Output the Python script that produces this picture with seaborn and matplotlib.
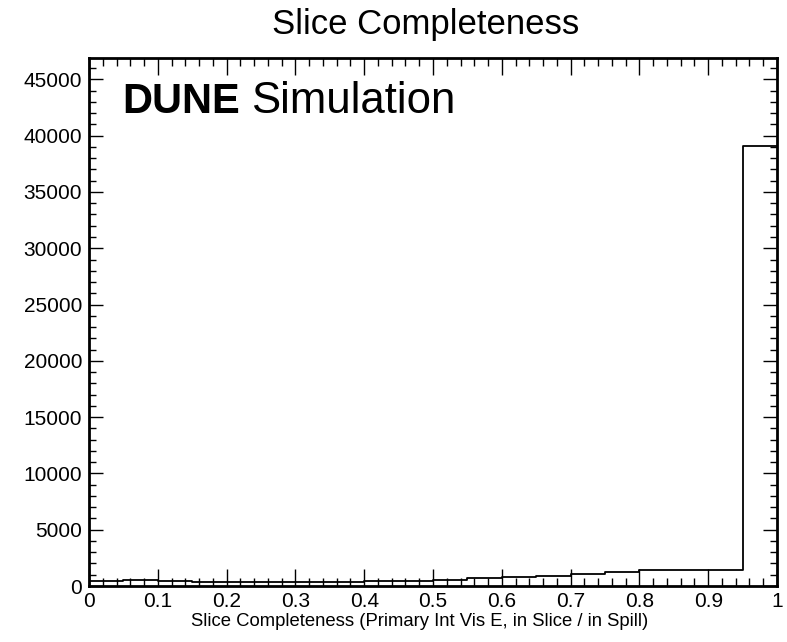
import numpy as np
import pandas as pd
import matplotlib
matplotlib.use("Agg")
import matplotlib.pyplot as plt
import seaborn as sns
from matplotlib.ticker import MultipleLocator

# ---- data ----
bin_edges = [0.0, 0.05, 0.1, 0.15, 0.2, 0.25, 0.3, 0.35, 0.4, 0.45, 0.5,
             0.55, 0.6, 0.65, 0.7, 0.75, 0.8, 0.85, 0.9, 0.95, 1.0]
bin_counts = [420, 560, 480, 400, 350, 350, 350, 400, 450, 450,
              520, 680, 790, 900, 1080, 1250, 1420, 1420, 1420, 39100]
x_ticks = [0, 0.1, 0.2, 0.3, 0.4, 0.5, 0.6, 0.7, 0.8, 0.9, 1]
x_tick_labels = ["0", "0.1", "0.2", "0.3", "0.4", "0.5", "0.6", "0.7", "0.8", "0.9", "1"]
y_ticks = [0, 5000, 10000, 15000, 20000, 25000, 30000, 35000, 40000, 45000]
y_tick_labels = [str(v) for v in y_ticks]

title = "Slice Completeness"
xlabel = "Slice Completeness (Primary Int Vis E, in Slice / in Spill)"

centers = [(bin_edges[i] + bin_edges[i + 1]) / 2 for i in range(len(bin_counts))]
df = pd.DataFrame({"x": centers, "w": bin_counts})

sns.set_theme(style="white")
plt.rcParams["font.family"] = ["Liberation Sans", "DejaVu Sans"]
plt.rcParams["text.color"] = "black"
plt.rcParams["xtick.color"] = "black"
plt.rcParams["ytick.color"] = "black"
plt.rcParams["axes.labelcolor"] = "black"

fig = plt.figure(figsize=(7.87, 6.42), dpi=100)
ax = fig.add_axes([0.1131, 0.0872, 0.9873 - 0.1131, 0.9097 - 0.0872])

sns.histplot(data=df, x="x", weights="w", bins=bin_edges, element="step",
             fill=False, color="black", linewidth=1.3, ax=ax)

ax.set_xlim(0, 1)
ax.set_ylim(0, 46900)
ax.set_xticks(x_ticks)
ax.set_xticklabels(x_tick_labels)
ax.set_yticks(y_ticks)
ax.set_yticklabels(y_tick_labels)
ax.xaxis.set_minor_locator(MultipleLocator(0.02))
ax.yaxis.set_minor_locator(MultipleLocator(1000))

ax.tick_params(axis="both", which="both", direction="in", top=True, right=True,
               bottom=True, left=True, color="black", labelcolor="black")
ax.tick_params(axis="x", which="major", length=12, width=1.0, labelsize=15, pad=4)
ax.tick_params(axis="x", which="minor", length=6, width=1.0)
ax.tick_params(axis="y", which="major", length=10, width=1.0, labelsize=15, pad=5)
ax.tick_params(axis="y", which="minor", length=5, width=1.0)

for s in ax.spines.values():
    s.set_visible(True)
    s.set_color("black")
    s.set_linewidth(2)

ax.set_ylabel("")
ax.set_xlabel(xlabel, fontsize=13.3, color="black")
ax.xaxis.set_label_coords(0.481, -0.068)
ax.xaxis.label.set_va("center")
fig.text(0.541, 0.962, title, ha="center", va="center", fontsize=25, color="black")

ax.text(0.048, 0.896, "DUNE", transform=ax.transAxes, fontsize=30,
        fontweight="bold", ha="left", va="baseline", color="black")
ax.text(0.236, 0.896, "Simulation", transform=ax.transAxes, fontsize=31.5,
        ha="left", va="baseline", color="black")

fig.savefig("out.png", dpi=100, facecolor="white")
